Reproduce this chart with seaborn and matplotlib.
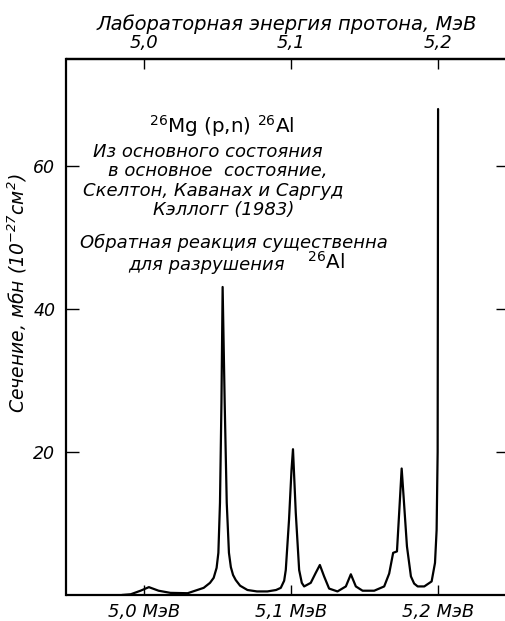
import matplotlib
matplotlib.use("Agg")
import matplotlib.pyplot as plt
import seaborn as sns
import pandas as pd

# Proton laboratory energy (MeV) and cross section (mb = 10^-27 cm^2)
energy = [4.9850, 4.9910, 4.9977, 5.0034, 5.0100, 5.0180, 5.0298, 5.0407,
          5.0450, 5.0475, 5.0495, 5.0507, 5.0518, 5.0528, 5.0536, 5.0550,
          5.0564, 5.0579, 5.0592, 5.0607, 5.0625, 5.0655, 5.0705, 5.0770,
          5.0841, 5.0900, 5.0932, 5.0955, 5.0966, 5.0988, 5.1005, 5.1015,
          5.1034, 5.1057, 5.1075, 5.1091, 5.1136, 5.1170, 5.1198, 5.1227,
          5.1261, 5.1318, 5.1375, 5.1409, 5.1443, 5.1489, 5.1568, 5.1636,
          5.1670, 5.1697, 5.1723, 5.1738, 5.1755, 5.1768, 5.1791, 5.1818,
          5.1840, 5.1864, 5.1909, 5.1959, 5.1982, 5.1993, 5.2000, 5.2003]
sigma = [0.0, 0.1, 0.6, 1.1, 0.6, 0.3, 0.25, 1.0,
         1.7, 2.4, 3.8, 5.9, 12.9, 26.9, 43.1, 26.9,
         12.9, 5.9, 3.9, 2.8, 2.1, 1.3, 0.7, 0.5,
         0.5, 0.7, 1.0, 2.0, 3.5, 10.5, 17.5, 20.4,
         11.5, 3.5, 1.7, 1.2, 1.7, 3.1, 4.2, 2.6,
         0.9, 0.5, 1.2, 2.9, 1.2, 0.6, 0.6, 1.2,
         3.0, 5.9, 6.1, 11.5, 17.7, 13.8, 6.8, 2.6,
         1.6, 1.2, 1.2, 1.9, 4.5, 9.1, 20.0, 68.0]

bottom_ticks = [5.0, 5.1, 5.2]
bottom_labels = ["5,0 МэВ", "5,1 МэВ", "5,2 МэВ"]
top_labels = ["5,0", "5,1", "5,2"]
y_ticks = [20, 40, 60]
y_labels = ["20", "40", "60"]

df = pd.DataFrame({"energy": energy, "sigma": sigma})

sns.set_style("ticks")
plt.rcParams["font.family"] = ["DejaVu Sans"]
plt.rcParams["font.style"] = "italic"
plt.rcParams["mathtext.default"] = "regular"
plt.rcParams["text.color"] = "black"
plt.rcParams["axes.labelcolor"] = "black"
plt.rcParams["xtick.color"] = "black"
plt.rcParams["ytick.color"] = "black"

W, H = 506, 621
fig = plt.figure(figsize=(W / 100, H / 100), dpi=100)
ax = fig.add_axes([66.5 / W, 1 - 595 / H, (508 - 66.5) / W, (595 - 59) / H])

sns.lineplot(data=df, x="energy", y="sigma", ax=ax, color="black",
             linewidth=1.6, estimator=None, sort=False)

ax.set_xlim(4.9473, 5.2479)
ax.set_ylim(0, 75)

for side in ["left", "top", "bottom"]:
    ax.spines[side].set_linewidth(1.6)
    ax.spines[side].set_color("black")
ax.spines["right"].set_visible(False)

ax.set_xticks(bottom_ticks, labels=bottom_labels)
ax.set_yticks(y_ticks, labels=y_labels)
ax.tick_params(axis="x", direction="in", length=7, width=1.0, pad=6,
               labelsize=13, colors="black")
ax.tick_params(axis="y", direction="in", length=9, width=1.0, pad=8,
               labelsize=12.5, colors="black", right=True)
ax.set_xlabel("")
ax.set_ylabel("Сечение, мбн (10$^{-27}$см$^{2}$)", fontsize=13.5, color="black")
ax.yaxis.set_label_coords(-0.085, 0.563)

sec = ax.secondary_xaxis("top")
sec.set_xticks(bottom_ticks, labels=top_labels)
sec.tick_params(direction="in", length=7, width=1.0, pad=5, labelsize=13,
                colors="black")
sec.spines["top"].set_linewidth(1.6)
sec.spines["top"].set_color("black")
sec.set_xlabel("Лабораторная энергия протона, МэВ", fontsize=14, labelpad=3,
               color="black")


def put(x, y, s, **kw):
    fig.text(x / W, 1 - y / H, s, va="center", color="black", **kw)


put(222, 126, "$^{26}$Mg (p,n) $^{26}$Al", ha="center", fontsize=14.3,
    style="normal")
put(93, 152, "Из основного состояния", ha="left", fontsize=13)
put(108, 171, "в основное  состояние,", ha="left", fontsize=13)
put(83, 191, "Скелтон, Каванах и Саргуд", ha="left", fontsize=13)
put(153, 210, "Кэллогг (1983)", ha="left", fontsize=13)
put(80, 243, "Обратная реакция существенна", ha="left", fontsize=13)
put(128, 265, "для разрушения", ha="left", fontsize=13)
put(307, 262, "$^{26}$Al", ha="left", fontsize=14.3, style="normal")

fig.savefig("out.png", dpi=100)
